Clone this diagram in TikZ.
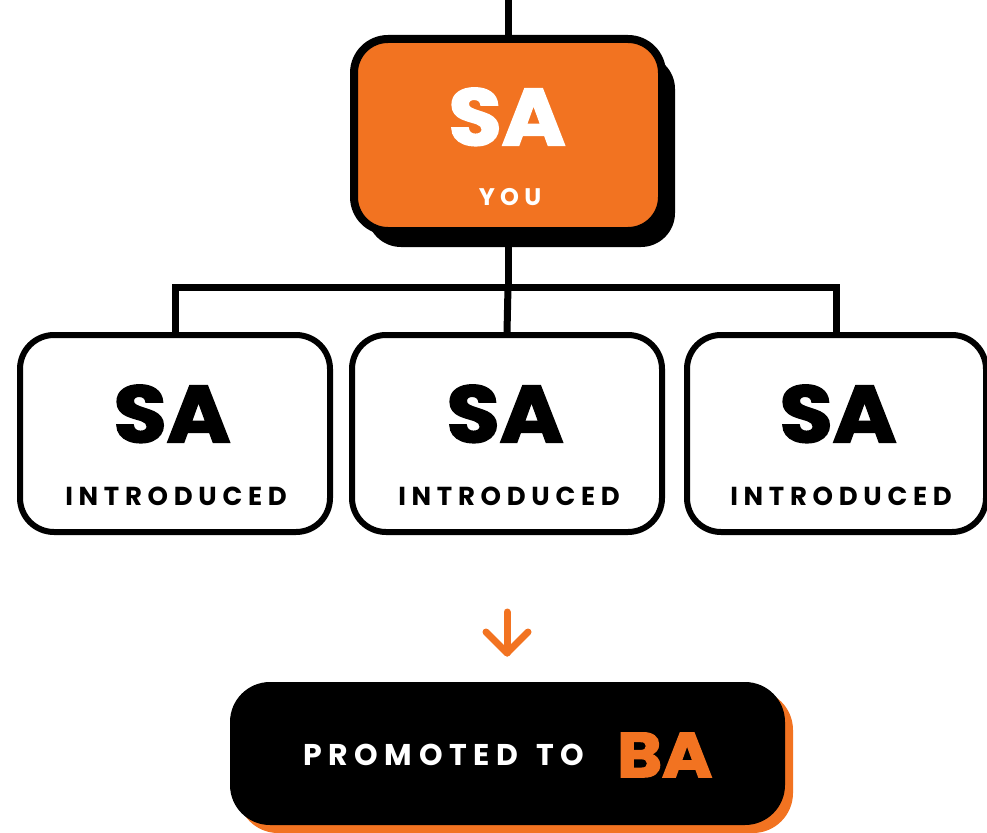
\documentclass[tikz,border=0pt]{standalone}
\usepackage{fontspec}
\setmainfont{Poppins}
\newfontfamily\spaced{Poppins}[LetterSpace=22]
\newfontfamily\heavy{Poppins}[BoldFeatures={FakeBold=2.5, FakeStretch=1.08}]
\usetikzlibrary{shadows}
\definecolor{org}{HTML}{F27321}
\tikzset{
  conn/.style={line width=7pt, black},
  topbox/.style={draw=black, line width=8pt, fill=org, rounded corners=34pt,
    minimum width=308pt, minimum height=192pt, inner sep=0pt,
    drop shadow={shadow xshift=13pt, shadow yshift=-16pt, fill=black, opacity=1}},
  subbox/.style={draw=black, line width=6pt, fill=white, rounded corners=34pt,
    minimum width=310pt, minimum height=197pt, inner sep=0pt},
  promobox/.style={fill=black, rounded corners=40pt,
    minimum width=555pt, minimum height=143pt, inner sep=0pt,
    drop shadow={shadow xshift=8pt, shadow yshift=-8pt, fill=org, opacity=1}},
  big/.style={inner sep=0pt, anchor=base, font=\fontsize{80}{80}\selectfont\heavy\bfseries},
  small/.style={inner sep=0pt, anchor=base, font=\fontsize{26}{26}\selectfont\spaced\bfseries},
  arr/.style={org, line width=7pt, line cap=round, line join=round},
}
\begin{document}
\begin{tikzpicture}[x=1pt,y=-1pt]
\useasboundingbox (0,0) rectangle (987,832);
% nodes
\node[topbox] (top) at (508,135) {};
\node[subbox] (b1) at (175,433.5) {};
\node[subbox] (b2) at (507,433.5) {};
\node[subbox, minimum width=299pt] (b3) at (836.5,433.5) {};
\node[promobox] (promo) at (507.5,753.5) {};
% texts
\node[big, white] (tsa) at (507,145) {SA};
\node[small, white, font=\fontsize{24}{24}\selectfont\spaced\bfseries] (tyou) at (510,205) {YOU};
\node[big] (s1) at (172,442) {SA};
\node[small] (i1) at (176,505) {INTRODUCED};
\node[big] (s2) at (505,442) {SA};
\node[small] (i2) at (509,505) {INTRODUCED};
\node[big] (s3) at (838,442) {SA};
\node[small] (i3) at (841,505) {INTRODUCED};
\node[small, white, anchor=base west, font=\fontsize{30}{30}\selectfont\spaced\bfseries] (pt) at (303,765) {PROMOTED\hspace{18pt}TO};
\node[big, org, anchor=base west, font=\fontsize{63}{63}\selectfont\heavy\bfseries] (ba) at (617,777) {BA};
% connectors
\coordinate (topin) at (508,0);
\coordinate (j) at (508,287);
\draw[conn] (topin) -- (top.north);
\draw[conn] (top.south) -- (j);
\draw[conn] (b1.north) |- (j) -| (b3.north);
\draw[conn] (j) -- (b2.north);
% arrow
\coordinate (atop) at (507,612);
\coordinate (atip) at (507,653);
\coordinate (al) at (486,632);
\coordinate (ar) at (528,632);
\draw[arr] (atop) -- (atip);
\draw[arr] (al) -- (atip) -- (ar);
\end{tikzpicture}
\end{document}
